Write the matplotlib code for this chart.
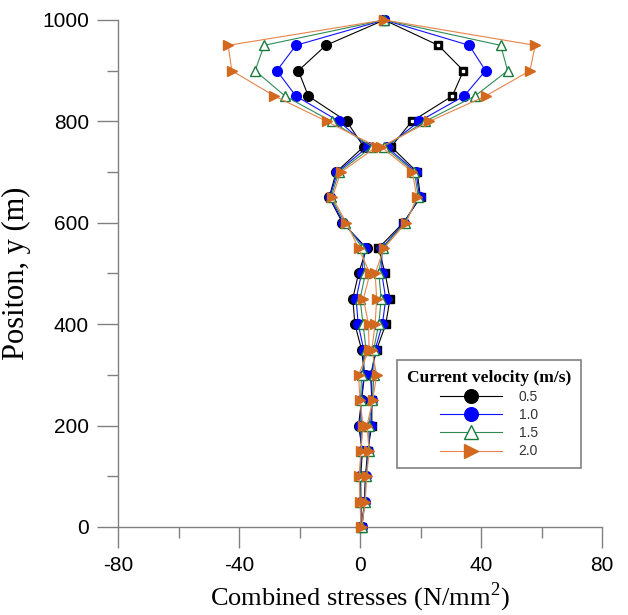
import numpy as np
import matplotlib.pyplot as plt
from matplotlib.ticker import MultipleLocator

plt.rcParams['mathtext.fontset'] = 'custom'
plt.rcParams['mathtext.rm'] = 'Liberation Serif'
plt.rcParams['axes.unicode_minus'] = False

# positions along the riser (m)
positions = np.arange(0, 1001, 50)

velocities = ['0.5', '1.0', '1.5', '2.0']

# left branch (filled markers), listed from y=0 up to y=1000
left_05 = [0.3, 0.3, 0.2, 0.8, -0.5, 0.5, 1.5, 0.5, -1.7, -2.4, -0.5, 2.2, -5.8, -10.2, -7.9, 1.2, -4.4, -17.1, -20.4, -11.3, 8.0]
left_10 = [0.3, 0.2, 0.0, 0.6, -0.1, 0.4, 1.3, 1.2, -0.6, -1.3, 0.5, 1.7, -5.5, -10.0, -7.5, 2.6, -6.9, -21.2, -27.5, -21.2, 8.0]
left_15 = [0.3, 0.1, -0.1, 0.4, 0.5, 0.2, 0.5, 2.0, 1.0, 0.0, 1.8, 0.8, -5.0, -9.6, -7.0, 4.0, -9.4, -24.8, -34.7, -31.7, 8.0]
left_20 = [0.3, 0.0, -0.3, 0.3, 1.0, 0.0, -0.5, 3.0, 2.8, 1.1, 3.3, -0.5, -4.5, -9.2, -6.3, 5.5, -11.0, -28.3, -42.4, -43.6, 8.0]

# right branch
right_05 = [0.6, 1.4, 1.8, 2.5, 3.9, 3.9, 3.5, 5.5, 8.5, 9.9, 8.3, 6.1, 14.3, 20.0, 18.9, 10.3, 17.1, 30.5, 34.2, 25.9, 8.0]
right_10 = [0.6, 1.5, 1.9, 2.7, 3.5, 4.0, 3.8, 5.0, 7.4, 8.5, 7.2, 7.2, 14.5, 19.7, 18.5, 8.8, 19.5, 34.4, 41.5, 36.1, 8.0]
right_15 = [0.6, 1.6, 2.0, 2.9, 2.9, 4.1, 4.6, 4.5, 6.2, 7.0, 6.2, 7.5, 14.8, 19.3, 18.0, 8.0, 21.5, 38.0, 48.8, 46.5, 8.0]
right_20 = [0.6, 1.7, 2.2, 3.0, 2.3, 4.2, 5.5, 3.9, 5.0, 5.5, 5.0, 7.9, 15.2, 18.8, 17.3, 7.0, 22.9, 41.5, 56.2, 57.9, 8.0]

lefts = [left_05, left_10, left_15, left_20]
rights = [right_05, right_10, right_15, right_20]

line_colors = ['black', '#1010ff', '#2e8b57', '#e8844a']
marker_colors = ['black', '#0000ff', '#1a7a3a', '#d2691e']
markers = ['o', 'o', '^', '>']

fig = plt.figure(figsize=(6.28, 6.15), dpi=100)
ax = fig.add_axes([0.188, 0.1431, 0.7706, 0.8244])

for i in range(len(velocities)):
    hollow = markers[i] == '^'
    face = 'white' if hollow else marker_colors[i]
    ax.plot(lefts[i], positions, color=line_colors[i], lw=0.8,
            marker=markers[i], ms=7, mfc=face, mec=marker_colors[i],
            mew=1.0, label=velocities[i], clip_on=False, zorder=3 + i)
    if i == 0:
        # 0.5 m/s right branch is drawn with black squares
        ax.plot(rights[i], positions, color=line_colors[i], lw=0.8,
                marker='s', ms=6, mfc='black', mec='black', clip_on=False, zorder=3)
        ax.plot(rights[i], positions, ls='none', marker='s', ms=1.5,
                mfc='white', mec='white', clip_on=False, zorder=3)
    else:
        ax.plot(rights[i], positions, color=line_colors[i], lw=0.8,
                marker=markers[i], ms=7, mfc=face, mec=marker_colors[i],
                mew=1.0, clip_on=False, zorder=3 + i)

ax.set_xlim(-80, 80)
ax.set_ylim(0, 1000)
ax.xaxis.set_major_locator(MultipleLocator(40))
ax.xaxis.set_minor_locator(MultipleLocator(20))
ax.yaxis.set_major_locator(MultipleLocator(200))
ax.yaxis.set_minor_locator(MultipleLocator(100))

for side in ['top', 'right']:
    ax.spines[side].set_visible(False)
for side in ['left', 'bottom']:
    ax.spines[side].set_color('#808080')
    ax.spines[side].set_linewidth(1.0)

ax.tick_params(which='major', direction='out', length=15, width=1.0, color='#808080',
               labelsize=15, pad=6)
ax.tick_params(which='minor', direction='out', length=8, width=1.0, color='#808080')
for lab in ax.get_xticklabels() + ax.get_yticklabels():
    lab.set_family('Liberation Sans')

ax.set_xlabel('Combined stresses (N/mm$^2$)', family='Liberation Serif', fontsize=19)
ax.set_ylabel('Positon, y (m)', family='Liberation Serif', fontsize=22, labelpad=8)

leg = ax.legend(loc='upper left', bbox_to_anchor=(0.562, 0.343), frameon=True,
                fancybox=False, edgecolor='#606060', markerscale=1.4,
                handlelength=4.5, borderpad=0.7, labelspacing=0.3, handletextpad=1.2,
                prop={'family': 'Liberation Sans', 'size': 10})
leg.set_title('Current velocity (m/s)', prop={'family': 'Liberation Serif', 'weight': 'bold', 'size': 12.5})
leg.get_frame().set_linewidth(1.2)
for t in leg.get_texts():
    t.set_color('#333333')

fig.savefig('out.png', dpi=100)
